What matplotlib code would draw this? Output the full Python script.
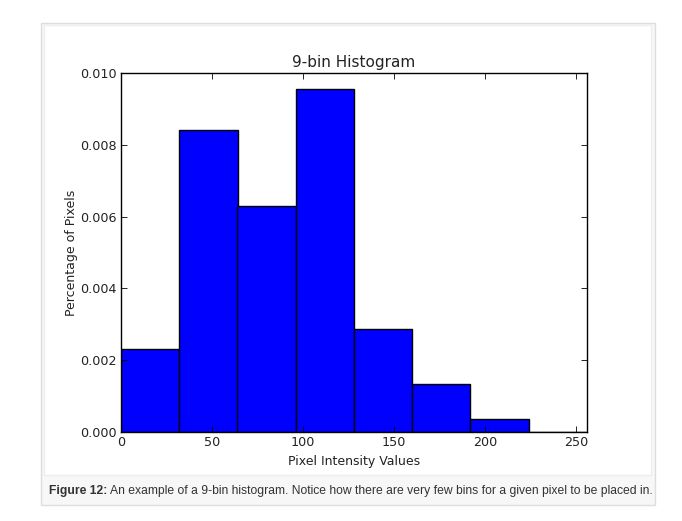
import numpy as np
import matplotlib
matplotlib.use('Agg')
import matplotlib.pyplot as plt
from matplotlib.patches import Rectangle

# histogram data (density per bin)
bin_edges = [0, 32, 64, 96, 128, 160, 192, 224, 256]
density = [0.00231, 0.00841, 0.00630, 0.00955, 0.00287, 0.00134, 0.00036, 0.0]

title = '9-bin Histogram'
xlabel = 'Pixel Intensity Values'
ylabel = 'Percentage of Pixels'
xticks = [0, 50, 100, 150, 200, 250]
yticks = [0.000, 0.002, 0.004, 0.006, 0.008, 0.010]
caption_bold = 'Figure 12:'
caption_text = 'An example of a 9-bin histogram. Notice how there are very few bins for a given pixel to be placed in.'

W, H = 682, 521
fig = plt.figure(figsize=(W / 100, H / 100), dpi=100)
fig.patch.set_facecolor('white')

def px_rect(x0, y0, x1, y1, **kw):
    # rectangle in pixel coords (top-left origin)
    r = Rectangle((x0 / W, 1 - y1 / H), (x1 - x0) / W, (y1 - y0) / H,
                  transform=fig.transFigure, zorder=-10, **kw)
    fig.patches.append(r)

# page card with border and caption band
px_rect(40.5, 22.5, 654.5, 504.5, facecolor='#f7f7f7', edgecolor='#dddddd', lw=1)
px_rect(44, 25, 651, 475, facecolor='white', edgecolor='#eeeeee', lw=1)

ax = fig.add_axes([121 / W, 1 - 432 / H, (587 - 121) / W, (432 - 73) / H])
widths = np.diff(bin_edges)
ax.bar(bin_edges[:-1], density, width=widths, align='edge',
       color='#0000ff', edgecolor='black', linewidth=1.0)

ax.set_xlim(0, 256)
ax.set_ylim(0, 0.010)
ax.set_xticks(xticks)
ax.set_yticks(yticks)
ax.set_yticklabels([f'{v:.3f}' for v in yticks])
ax.tick_params(direction='in', top=True, right=True, length=4, width=0.6,
               labelsize=9.2, colors='black', labelcolor='#222222', pad=3)
for s in ax.spines.values():
    s.set_linewidth(1.0)
    s.set_color('black')

ax.set_title(title, fontsize=11, color='#222222', pad=4)
ax.set_xlabel(xlabel, fontsize=9, color='#222222', labelpad=4)
ax.set_ylabel(ylabel, fontsize=9, color='#222222', labelpad=1.5)

t1 = fig.text(49 / W, 1 - 491 / H, caption_bold, fontsize=8.7, fontweight='bold',
              family='Liberation Sans', color='#333333', va='center', ha='left')
fig.canvas.draw()
bb = t1.get_window_extent()
fig.text((bb.x1 + 3) / W, 1 - 491 / H, caption_text,
         fontsize=8.7, family='Liberation Sans', color='#333333', va='center', ha='left')

fig.savefig('out.png', dpi=100)
